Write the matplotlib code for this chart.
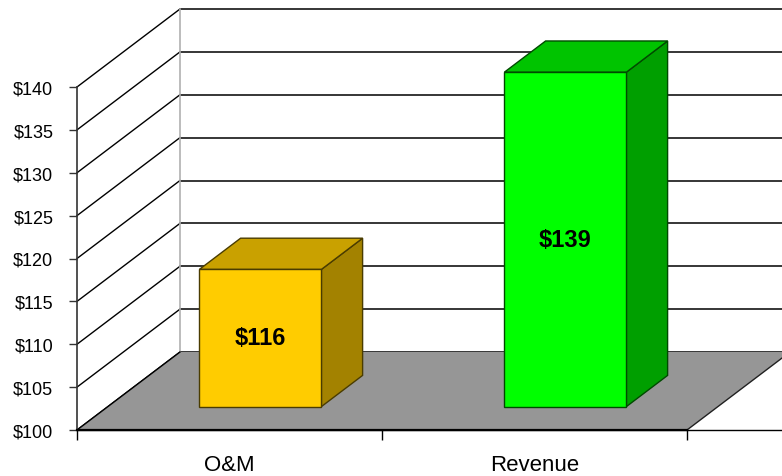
import matplotlib.pyplot as plt
from matplotlib.patches import Polygon

categories = ["O&M", "Revenue"]
values = [116, 139]
labels = ["$116", "$139"]
yticks = [100, 105, 110, 115, 120, 125, 130, 135, 140]
ytick_labels = ["$100", "$105", "$110", "$115", "$120", "$125", "$130", "$135", "$140"]

front_cols = ["#ffcc00", "#00ff00"]
top_cols = ["#c9a100", "#00c400"]
side_cols = ["#a38200", "#009f00"]
edge_cols = ["#4a3c00", "#004a00"]

plt.rcParams['font.family'] = ['Liberation Sans', 'DejaVu Sans']

fig = plt.figure(figsize=(7.82, 4.77), dpi=100)
ax = fig.add_axes([77 / 782, 46 / 477, 610 / 782, 343 / 477])
ymin, ymax = 100, 140
n = len(categories)
ax.set_xlim(0, n)
ax.set_ylim(ymin, ymax)

# depth vector (full depth) in data units
DX = 103 / 305
DY = 78 / (343 / 40)


def proj(x, y, d):
    return (x + d * DX, y + d * DY)


# back wall gridlines
for t in yticks:
    p0 = proj(0, t, 1)
    p1 = proj(n + 0.2, t, 1)
    ax.plot([p0[0], p1[0]], [p0[1], p1[1]], color="black", lw=1.1,
            clip_on=False, zorder=1)
    # left wall diagonals
    q0 = proj(0, t, 0)
    ax.plot([q0[0], p0[0]], [q0[1], p0[1]], color="black", lw=1.0,
            clip_on=False, zorder=1)

# back wall left edge
b0 = proj(0, ymin, 1)
b1 = proj(0, ymax, 1)
ax.plot([b0[0], b1[0]], [b0[1], b1[1]], color="#b0b0b0", lw=1.2,
        clip_on=False, zorder=1)

# floor
floor = Polygon([proj(0, ymin, 0), proj(n, ymin, 0), proj(n, ymin, 1),
                 proj(n + 0.2, ymin, 1), proj(0, ymin, 1)],
                closed=True, facecolor="#969696", edgecolor="none",
                clip_on=False, zorder=2)
ax.add_patch(floor)
f0 = proj(n, ymin, 0)
f1 = proj(n, ymin, 1)
ax.plot([f0[0], f1[0]], [f0[1], f1[1]], color="#202020", lw=1.0,
        clip_on=False, zorder=2)
ax.plot([0, f1[0]], [ymin, ymin], color="black", lw=1.0, clip_on=False, zorder=2.5)
l1 = proj(0, ymin, 1)
ax.plot([0, l1[0]], [ymin, l1[1]], color="black", lw=1.0, clip_on=False, zorder=2.5)

# bars
w = 0.4
d0, d1 = 0.3, 0.7
for i, v in enumerate(values):
    x0 = i + 0.5 - w / 2
    x1 = i + 0.5 + w / 2
    front = [proj(x0, ymin, d0), proj(x1, ymin, d0), proj(x1, v, d0), proj(x0, v, d0)]
    top = [proj(x0, v, d0), proj(x1, v, d0), proj(x1, v, d1), proj(x0, v, d1)]
    side = [proj(x1, ymin, d0), proj(x1, ymin, d1), proj(x1, v, d1), proj(x1, v, d0)]
    for pts, c in [(side, side_cols[i]), (top, top_cols[i]), (front, front_cols[i])]:
        ax.add_patch(Polygon(pts, closed=True, facecolor=c, edgecolor=edge_cols[i],
                             lw=1.0, clip_on=False, zorder=3))
    cx, cy = proj(i + 0.5, (ymin + v) / 2, d0)
    ax.text(cx, cy, labels[i], ha="center", va="center", fontsize=17,
            fontweight="bold", color="black", zorder=4)

for s in ["top", "right"]:
    ax.spines[s].set_visible(False)
ax.spines["left"].set_color("#333333")
ax.spines["left"].set_linewidth(1.2)
ax.spines["bottom"].set_color("black")
ax.spines["bottom"].set_linewidth(1.6)
ax.spines["bottom"].set_zorder(5)

ax.set_yticks(yticks)
ax.set_yticklabels(ytick_labels, fontsize=13)
ax.tick_params(axis="y", length=6, width=1.0, color="#333333", pad=11)
ax.set_xticks(range(n + 1))
ax.set_xticklabels([""] * (n + 1))
ax.tick_params(axis="x", which="major", length=7, width=1.0, color="black")
ax.set_xticks([i + 0.5 for i in range(n)], minor=True)
ax.set_xticklabels(categories, minor=True, fontsize=16)
ax.tick_params(axis="x", which="minor", length=0, pad=17)
ax.patch.set_visible(False)

fig.savefig("out.png", dpi=100)
